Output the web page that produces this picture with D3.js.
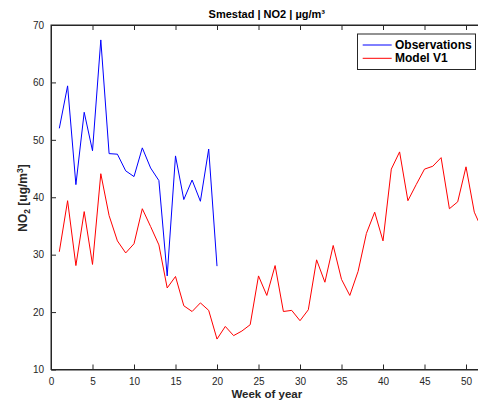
<!DOCTYPE html>
<html><head><meta charset="utf-8">
<script src="https://cdn.jsdelivr.net/npm/d3@7"></script>
<style>body{margin:0;background:#fff;}svg{display:block;font-family:"Liberation Sans",Arial,sans-serif;}</style>
</head><body>
<script>
const weeksObs = d3.range(1, 21);
const observations = [52.0,59.4,42.2,54.8,48.1,67.4,47.6,47.5,44.6,43.6,48.6,45.1,42.9,26.3,47.2,39.6,43.0,39.3,48.4,28.0];
const weeksModel = d3.range(1, 53);
const modelV1 = [30.5,39.4,28.1,37.5,28.3,44.1,36.8,32.4,30.3,31.9,38.0,34.9,31.7,24.2,26.2,21.1,20.1,21.6,20.3,15.3,
  17.5,15.9,16.7,17.8,26.3,22.9,28.1,20.1,20.3,18.5,20.4,29.1,25.2,31.6,25.7,22.9,27.1,33.7,37.4,32.4,
  44.9,47.9,39.4,42.2,44.9,45.4,46.9,38.0,39.2,45.3,37.4,34.2];
const xTicks = [0,5,10,15,20,25,30,35,40,45,50];
const yTicks = [10,20,30,40,50,60,70];
const seriesNames = ["Observations","Model V1"];
const seriesColors = ["#0000ff","#ff0000"];

const W = 478, H = 406;
const svg = d3.select("body").append("svg").attr("width", W).attr("height", H);
const x = d3.scaleLinear().domain([0, 52]).range([51, 482.6]);
const y = d3.scaleLinear().domain([10, 70]).range([369.5, 25]);
const tc = "#262626";

const g = svg.append("g");
g.append("rect").attr("x", x(0)).attr("y", y(70)).attr("width", x(52)-x(0)).attr("height", y(10)-y(70))
  .attr("fill", "none").attr("stroke", tc).attr("stroke-width", 1);

const xa = g.append("g").attr("transform", `translate(0,${y(10)})`)
  .call(d3.axisBottom(x).tickValues(xTicks).tickSizeInner(-5).tickSizeOuter(0).tickPadding(8));
const xt = g.append("g").attr("transform", `translate(0,${y(70)})`)
  .call(d3.axisTop(x).tickValues(xTicks).tickSizeInner(-5).tickSizeOuter(0).tickFormat(""));
const ya = g.append("g").attr("transform", `translate(${x(0)},0)`)
  .call(d3.axisLeft(y).tickValues(yTicks).tickSizeInner(-5).tickSizeOuter(0).tickPadding(7));
[xa, xt, ya].forEach(a => {
  a.select(".domain").attr("stroke", tc);
  a.selectAll(".tick line").attr("stroke", tc);
  a.selectAll("text").attr("fill", tc).style("font-size", "10px").style("font-family", '"Liberation Sans",Arial,sans-serif');
});

const line = d3.line().x(d => x(d[0])).y(d => y(d[1]));
g.append("path").datum(weeksModel.map((w, i) => [w, modelV1[i]]))
  .attr("d", line).attr("fill", "none").attr("stroke", seriesColors[1]).attr("stroke-width", 1);
g.append("path").datum(weeksObs.map((w, i) => [w, observations[i]]))
  .attr("d", line).attr("fill", "none").attr("stroke", seriesColors[0]).attr("stroke-width", 1);

svg.append("text").attr("x", 266.8).attr("y", 18).attr("text-anchor", "middle")
  .style("font-size", "11px").style("font-weight", "bold").attr("fill", "#000").text("Smestad | NO2 | µg/m³");
svg.append("text").attr("x", 266.8).attr("y", 398).attr("text-anchor", "middle")
  .style("font-size", "11.5px").style("font-weight", "bold").attr("fill", tc).text("Week of year");
const yl = svg.append("text").attr("transform", "translate(27,198) rotate(-90)").attr("text-anchor", "middle")
  .style("font-size", "12px").style("font-weight", "bold").attr("fill", tc);
yl.append("tspan").text("NO");
yl.append("tspan").attr("dy", 3).style("font-size", "8.5px").text("2");
yl.append("tspan").attr("dy", -3).text(" [ug/m");
yl.append("tspan").attr("dy", -4.5).style("font-size", "8.5px").text("3");
yl.append("tspan").attr("dy", 4.5).text("]");

const lg = svg.append("g");
lg.append("rect").attr("x", 357.5).attr("y", 34).attr("width", 118).attr("height", 35.5)
  .attr("fill", "#fff").attr("stroke", tc).attr("stroke-width", 1);
seriesNames.forEach((n, i) => {
  const yy = 45 + i * 13.3;
  lg.append("line").attr("x1", 362.7).attr("x2", 391.7).attr("y1", yy).attr("y2", yy)
    .attr("stroke", seriesColors[i]).attr("stroke-width", 1);
  lg.append("text").attr("x", 395).attr("y", yy + 4).style("font-size", "12px").style("font-weight", "bold")
    .attr("fill", "#000").text(n);
});
</script>
</body></html>
